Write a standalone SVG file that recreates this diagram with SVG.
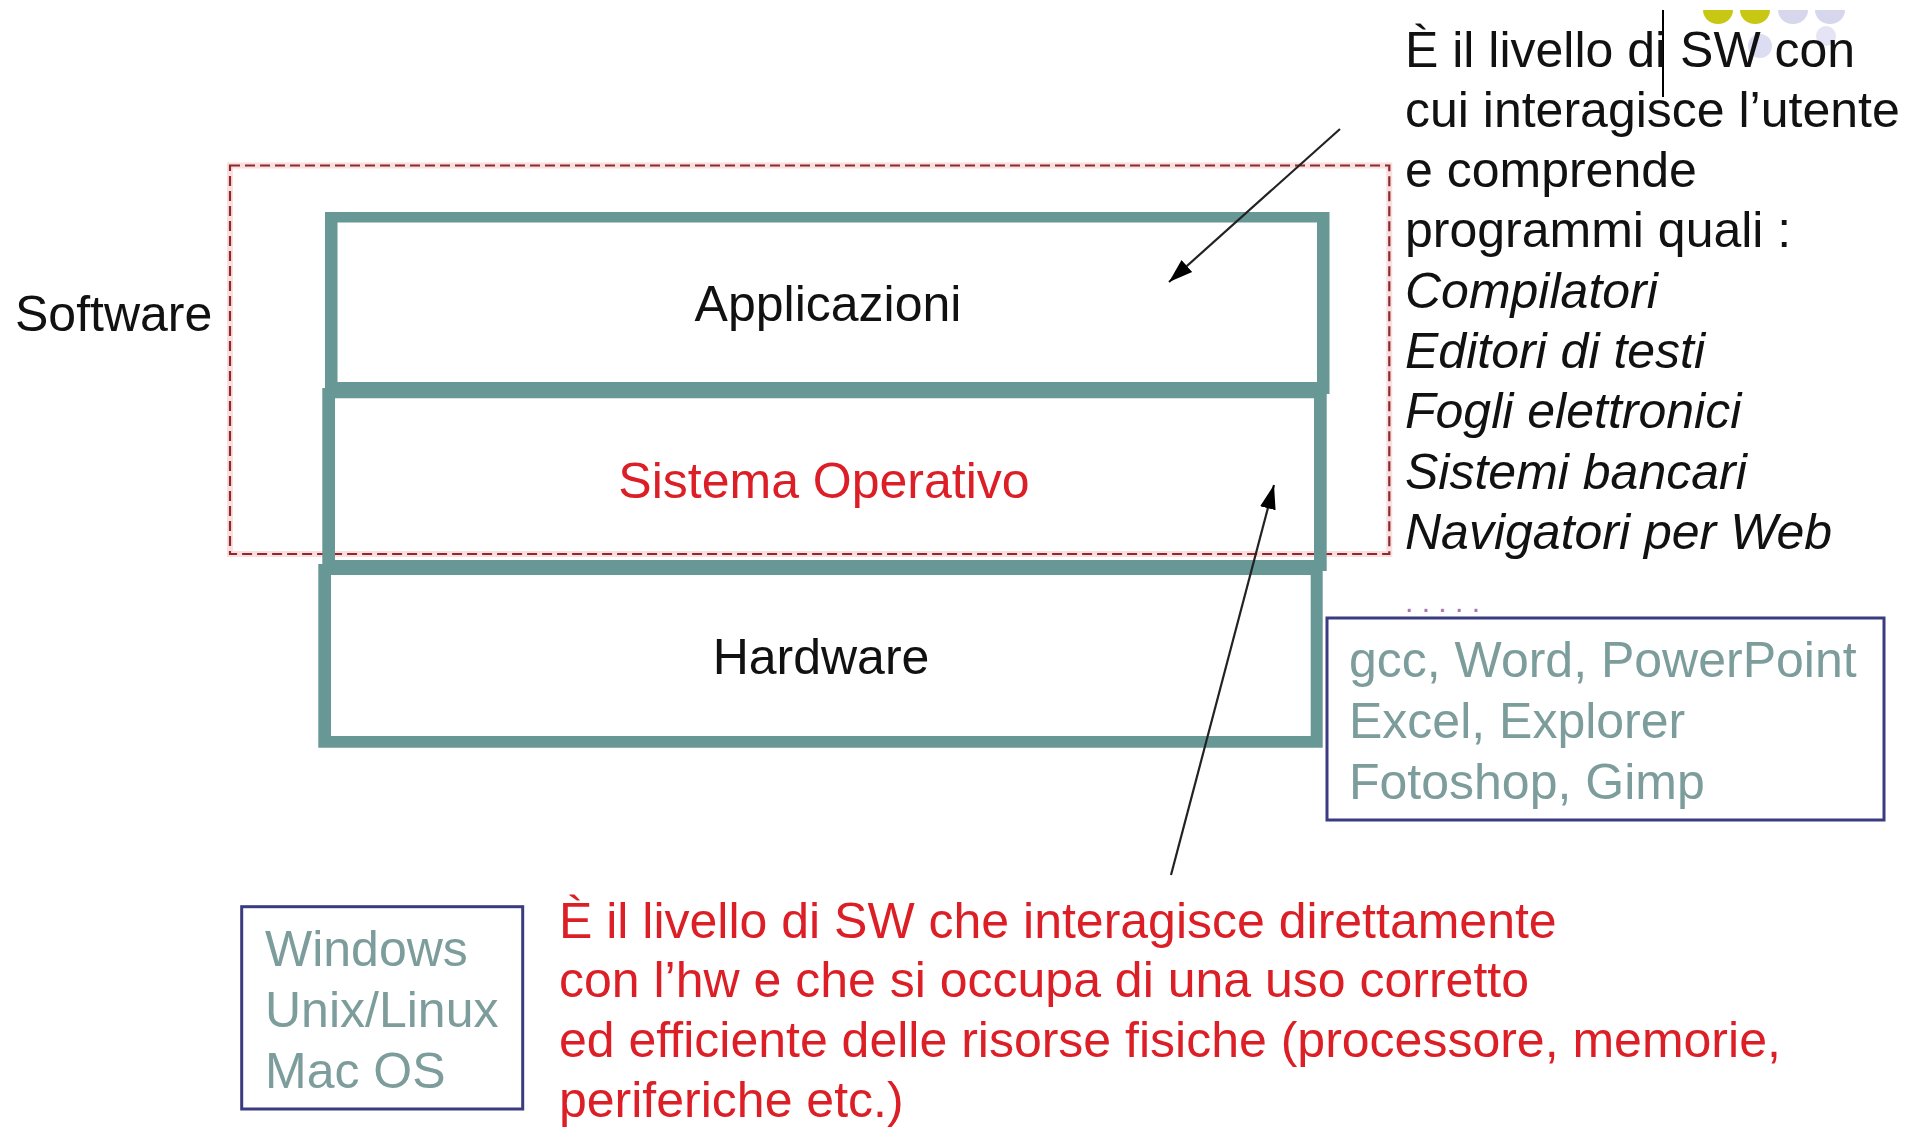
<svg xmlns="http://www.w3.org/2000/svg" width="1921" height="1127" viewBox="0 0 1921 1127">
<style>
text { font-family: "Liberation Sans", Arial, sans-serif; font-size: 50px; }
.blk { fill: #111111; }
.red { fill: #dc1f26; }
.gry { fill: #7c9d9b; }
.it { font-style: italic; }
.layer { fill: #689896; fill-rule: evenodd; }
.inner { fill: #ffffff; }
.box { fill: #ffffff; stroke: #3b3b82; stroke-width: 3; }
.conn { stroke: #222222; stroke-width: 2.2; fill: none; }
</style>
<defs>
<marker id="arrow" markerUnits="userSpaceOnUse" markerWidth="26" markerHeight="20" viewBox="0 0 26 20" refX="24" refY="10" orient="auto">
<path d="M0,2 L24,10 L0,18 Z" fill="#000000"/>
</marker>
</defs>
<rect width="1921" height="1127" fill="#ffffff"/>

<g id="decor">
<path d="M1703,10 A15,14 0 0 0 1733,10 Z" fill="#c8c814"/>
<path d="M1740,10 A15,14 0 0 0 1770,10 Z" fill="#c8c814"/>
<path d="M1778,10 A15,14 0 0 0 1808,10 Z" fill="#d6d6ec"/>
<path d="M1815,10 A15,14 0 0 0 1845,10 Z" fill="#d6d6ec"/>
<circle cx="1760" cy="46" r="12" fill="#dcdcf2"/>
<circle cx="1826" cy="36" r="10" fill="#e4e4f4"/>
<line x1="1663" y1="10" x2="1663" y2="97" stroke="#000000" stroke-width="2"/>
</g>

<g id="software-group">
<rect x="230" y="165.5" width="1159.3" height="388.5" fill="none" stroke="#fbdede" stroke-width="6"/>
<rect x="230" y="165.5" width="1159.3" height="388.5" fill="none" stroke="#8c2a2e" stroke-width="2.2" stroke-dasharray="10 5"/>
<text class="blk" x="15" y="331">Software</text>
</g>

<g id="applicazioni">
<path class="layer" d="M325,212 H1329.5 V394 H325 Z M337.5,222.5 V382 H1317 V222.5 Z"/>
<text class="blk" x="828" y="321" text-anchor="middle">Applicazioni</text>
</g>

<g id="sistema-operativo">
<path class="layer" d="M322.3,388 H1326.7 V571 H322.3 Z M335,398.3 V560 H1314 V398.3 Z"/>
<text class="red" x="824" y="498" text-anchor="middle">Sistema Operativo</text>
</g>

<g id="hardware">
<path class="layer" d="M318.3,564 H1322.7 V747.7 H318.3 Z M331,575 V736 H1310.7 V575 Z"/>
<text class="blk" x="821" y="674" text-anchor="middle">Hardware</text>
</g>

<g id="app-description">
<text class="blk" x="1405" y="66.5">È il livello di SW con</text>
<text class="blk" x="1405" y="126.8">cui interagisce l’utente</text>
<text class="blk" x="1405" y="187.1">e comprende</text>
<text class="blk" x="1405" y="247.4">programmi quali :</text>
<text class="blk it" x="1405" y="307.7">Compilatori</text>
<text class="blk it" x="1405" y="368">Editori di testi</text>
<text class="blk it" x="1405" y="428.3">Fogli elettronici</text>
<text class="blk it" x="1405" y="488.6">Sistemi bancari</text>
<text class="blk it" x="1405" y="548.9">Navigatori per Web</text>
<text x="1405" y="612" fill="#a878b0" style="font-size:30px">. . . . .</text>
</g>

<g id="app-examples">
<rect class="box" x="1327" y="618" width="557" height="202"/>
<text class="gry" x="1349" y="677">gcc, Word, PowerPoint</text>
<text class="gry" x="1349" y="738">Excel, Explorer</text>
<text class="gry" x="1349" y="798.5">Fotoshop, Gimp</text>
</g>

<g id="os-examples">
<rect class="box" x="241.7" y="906.7" width="281" height="202.3"/>
<text class="gry" x="265" y="966">Windows</text>
<text class="gry" x="265" y="1026.7">Unix/Linux</text>
<text class="gry" x="265" y="1087.7">Mac OS</text>
</g>

<g id="os-description">
<text class="red" x="559" y="937.5">È il livello di SW che interagisce direttamente</text>
<text class="red" x="559" y="997">con l’hw e che si occupa di una uso corretto</text>
<text class="red" x="559" y="1057">ed efficiente delle risorse fisiche (processore, memorie,</text>
<text class="red" x="559" y="1117">periferiche etc.)</text>
</g>

<g id="connectors">
<line class="conn" x1="1340" y1="129" x2="1169" y2="282" marker-end="url(#arrow)"/>
<line class="conn" x1="1171" y1="875" x2="1274" y2="485" marker-end="url(#arrow)"/>
</g>
</svg>
